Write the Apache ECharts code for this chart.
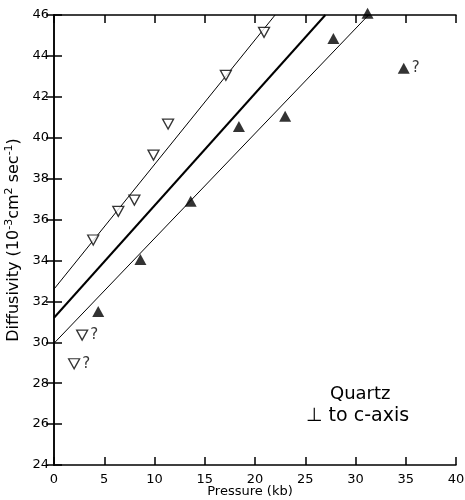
<!DOCTYPE html>
<html><head><meta charset="utf-8">
<script src="https://cdn.jsdelivr.net/npm/echarts@6/dist/echarts.min.js"></script>
<style>html,body{margin:0;padding:0;background:#fff}#c{width:465px;height:500px}</style>
</head><body><div id="c"></div>
<script>
// Open (down-pointing) triangles: pressure (kb), diffusivity
var openP = [2.0, 2.8, 3.9, 6.4, 8.0, 9.9, 11.35, 17.1, 20.9];
var openD = [28.95, 30.35, 35.0, 36.4, 36.95, 39.15, 40.67, 43.05, 45.15];
var openQ = [true, true, false, false, false, false, false, false, false];
// Filled (up-pointing) triangles
var fillP = [4.4, 8.6, 13.6, 18.4, 23.0, 27.8, 31.2, 34.8];
var fillD = [31.5, 34.05, 36.9, 40.55, 41.05, 44.85, 46.08, 43.4];
var fillQ = [false, false, false, false, false, false, false, true];
// Fit lines (endpoints)
var upperLine = [[0, 32.6], [22.0, 46]];
var middleLine = [[0, 31.2], [27.0, 46]];
var lowerLine = [[0, 29.95], [31.3, 46]];
var xTicks = [0, 5, 10, 15, 20, 25, 30, 35, 40];
var yTicks = [24, 26, 28, 30, 32, 34, 36, 38, 40, 42, 44, 46];

var FONT = 'DejaVu Sans';
function pts(P, D, Q) {
  return P.map(function (p, i) {
    var o = { value: [p, D[i]] };
    if (Q[i]) o.label = { show: true, formatter: '?', position: 'right', distance: 2, color: '#000', fontSize: 15, fontFamily: FONT };
    return o;
  });
}
var chart = echarts.init(document.getElementById('c'));
var axisCommon = {
  axisLine: { show: true, lineStyle: { color: '#000', width: 1.5 } },
  axisTick: { show: true, inside: true, length: 8, lineStyle: { color: '#000', width: 1.5 } },
  splitLine: { show: false }
};
chart.setOption({
  animation: false,
  backgroundColor: '#fff',
  grid: { left: 54, right: 9, top: 15, bottom: 35, containLabel: false, outerBoundsMode: 'none' },
  xAxis: [
    Object.assign({ type: 'value', min: xTicks[0], max: xTicks[xTicks.length - 1], interval: 5, position: 'bottom',
      axisLabel: { color: '#000', fontSize: 13, fontFamily: FONT, margin: 8 },
      name: 'Pressure (kb)', nameLocation: 'middle', nameGap: 20, nameMoveOverlap: false,
      nameTextStyle: { color: '#000', fontSize: 13, fontFamily: FONT, padding: [0, 10, 0, 0] } }, axisCommon),
    Object.assign({ type: 'value', min: xTicks[0], max: xTicks[xTicks.length - 1], interval: 5, position: 'top',
      axisLabel: { show: false } }, axisCommon)
  ],
  yAxis: [
    Object.assign({ type: 'value', min: yTicks[0], max: yTicks[yTicks.length - 1], interval: 2, position: 'left',
      axisLabel: { color: '#000', fontSize: 13, fontFamily: FONT, margin: 5 },
      name: '{a|Diffusivity (10}{s|-3}{a|cm}{s|2}{a| sec}{s|-1}{a|)}', nameLocation: 'middle', nameGap: 30, nameRotate: 90, nameMoveOverlap: false,
      nameTextStyle: { color: '#000', fontFamily: FONT,
        rich: { a: { fontSize: 16, fontFamily: FONT, color: '#000', lineHeight: 20 },
                s: { fontSize: 11, fontFamily: FONT, color: '#000', lineHeight: 10, verticalAlign: 'top' } } } }, axisCommon),
    Object.assign({ type: 'value', min: yTicks[0], max: yTicks[yTicks.length - 1], interval: 2, position: 'right',
      axisLabel: { show: false } }, axisCommon)
  ],
  series: [
    { type: 'line', data: upperLine, symbol: 'none', lineStyle: { color: '#000', width: 1 }, silent: true },
    { type: 'line', data: middleLine, symbol: 'none', lineStyle: { color: '#000', width: 2 }, silent: true },
    { type: 'line', data: lowerLine, symbol: 'none', lineStyle: { color: '#000', width: 1 }, silent: true },
    { type: 'scatter', data: pts(openP, openD, openQ), symbol: 'triangle', symbolRotate: 180, symbolSize: [11, 10],
      itemStyle: { color: '#fff', borderColor: '#000', borderWidth: 1.3 }, clip: false, z: 5 },
    { type: 'scatter', data: pts(fillP, fillD, fillQ), symbol: 'triangle', symbolSize: [12, 11],
      itemStyle: { color: '#000' }, clip: false, z: 5 }
  ],
  graphic: [
    { type: 'text', left: 330, top: 385, style: { text: 'Quartz', fontSize: 18, fontFamily: FONT, fill: '#000' } },
    { type: 'text', left: 306, top: 407, style: { text: '\u22A5 to c-axis', fontSize: 19, fontFamily: FONT, fill: '#000' } }
  ]
});
</script></body></html>
